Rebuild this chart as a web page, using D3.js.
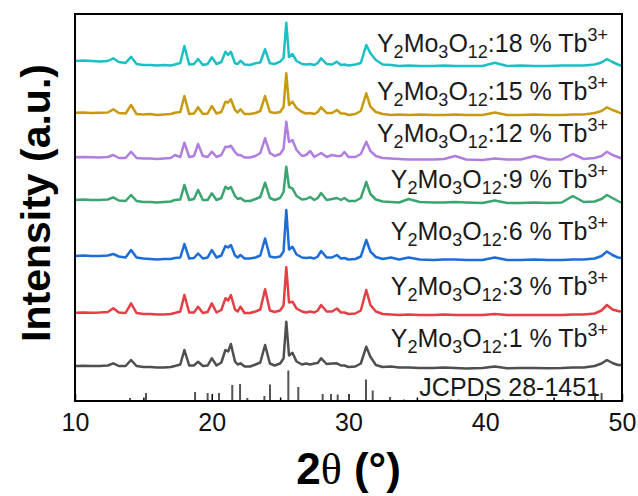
<!DOCTYPE html>
<html>
<head>
<meta charset="utf-8">
<script src="https://cdn.jsdelivr.net/npm/d3@7"></script>
<style>
  html, body { margin: 0; padding: 0; background: #fff; }
  svg { display: block; }
  text { font-family: "Liberation Sans", Arial, sans-serif; }
</style>
</head>
<body>
<svg id="chart" width="638" height="496"></svg>
<script>
// 2θ sampling positions shared by every measured pattern (degrees)
const twoTheta = [
  10.0, 10.6, 11.2, 11.8, 12.4, 12.8, 13.2, 13.7, 14.1, 14.5,
  15.0, 15.5, 16.0, 16.5, 17.0, 17.3, 17.7, 18.0, 18.35, 18.7,
  19.0, 19.35, 19.7, 20.0, 20.35, 20.7, 21.0, 21.2, 21.4, 21.7,
  21.9, 22.1, 22.4, 22.8, 23.2, 23.55, 23.9, 24.25, 24.6, 25.0,
  25.25, 25.45, 25.65, 25.9, 26.2, 26.6, 26.9, 27.2, 27.5, 27.75,
  28.0, 28.4, 28.8, 29.15, 29.45, 29.7, 30.0, 30.5, 30.9, 31.3,
  31.6, 32.0, 32.5, 33.1, 33.7, 34.4, 35.2, 36.2, 37.0, 37.8,
  38.6, 39.8, 40.7, 41.6, 42.6, 43.6, 44.6, 45.6, 46.4, 47.2,
  48.0, 48.5, 48.9, 49.3, 49.7, 50.0
];

// Tb3+ doping level of each sample (%)
const dopingLevels = [1, 3, 6, 9, 12, 15, 18];

// Vertical stacking offset of each pattern (a.u.), same order as dopingLevels
const stackOffset = [33.5, 86.5, 141.5, 199, 242, 286, 335];

// Diffracted intensity above background (a.u.) per sample
const intensity1 = [
  1.5, 1.8, 1.5, 1.5, 2, 4.2, 1.5, 1.5, 7.5, 1.5,
  0.5, 0.5, 0, 0, 0.5, 1.5, 3, 17.5, 2, 2,
  5.8, 1.5, 2, 9.2, 2, 5, 17.5, 16, 23.5, 6,
  3, 4.2, 1, 1, 3, 5, 22.5, 4, 2, 4,
  9, 45.8, 12, 14.8, 6, 3, 4, 3, 4, 4.5,
  9.2, 3.5, 4, 4.2, 2, 2, 0.5, 1, 4, 20.8,
  10.8, 2.5, 0.5, 1, 0, 0, -0.5, -0.5, 0, -0.5,
  -1, -0.5, 1, -0.8, -0.5, -0.5, -0.8, -0.5, 0, 0,
  1.5, 4, 7.5, 4.5, 2.5, 2.5
];
const intensity3 = [
  1.8, 2, 1.8, 2, 2.5, 6.2, 2, 1.5, 11.2, 1.5,
  0.5, 0.5, 0, 0, 0.5, 1.5, 3, 19.5, 2, 2,
  7.8, 1.5, 2.5, 11.2, 2, 4.5, 16.2, 14, 19.5, 5,
  3, 7.8, 1.5, 1.5, 3, 5, 25.2, 4, 2.5, 4,
  9, 47.2, 12, 12.8, 6, 3, 2, 3, 2, 4,
  9.5, 3, 3, 6, 2, 2, 0.5, 1, 4, 24.5,
  9.5, 3, 0.5, 0, -0.5, 0, -0.5, -0.5, 0, -0.5,
  -0.5, -0.5, 0.5, -0.5, -0.5, -0.5, -0.5, -0.5, 0, 0,
  1, 4, 9.5, 5, 3.5, 2.8
];
const intensity6 = [
  3.5, 4, 3.5, 3.5, 4, 5.5, 3, 2, 9.5, 2,
  1, 0.5, 0, 0.5, 0.5, 1.5, 2, 15.5, 1, 1.5,
  6, 1, 2, 9.5, 2, 4, 13.5, 12, 14.5, 4,
  2, 4.5, 1, 1, 2, 4, 21, 3, 2, 3,
  8, 49.5, 10, 12.8, 5, 2, 1.5, 2, 1, 3,
  8.5, 2, 2, 4.5, 1, 1.5, 0, 0.5, 3, 19.5,
  8, 2.5, 0.5, 2, 0, 2, 0, -0.5, 0, 0,
  -0.5, -0.5, 2, -0.5, -0.5, 0, -0.5, -0.5, 0, 0,
  1, 3.5, 8, 4.5, 2, 1.5
];
const intensity9 = [
  2, 2.5, 2, 2, 2.5, 4.7, 1.5, 1, 7, 1,
  0, 0, -0.5, 0, 0.5, 2, 2.5, 17, 2, 3,
  12, 2, 2, 8.7, 2, 4, 15.3, 13, 15, 6,
  3, 4, 1, 1, 3, 5, 19.3, 4, 2, 4,
  10, 35.3, 15, 13.7, 6, 2.5, 3, 5, 2, 4,
  9, 2, 3, 4, 2, 4, 1, 1, 4, 20,
  8, 2.5, 0.5, 0, -0.5, 3, 0, -0.5, -0.5, 0,
  -0.5, -1, 1.5, -1, -1, -0.5, -1, -0.5, 6, 0,
  0.5, 3, 7, 4, 1, -1
];
const intensity12 = [
  1.7, 2, 1.7, 1.5, 2, 4, 1, 1, 7.3, 1,
  0.5, 0.5, 0, 0.5, 1, 4, 2, 16.3, 2, 3,
  15, 3, 2, 7.3, 2, 4, 12.3, 12, 13.3, 7,
  4, 4, 1.5, 1.5, 3, 6, 20.7, 6, 3, 5,
  10, 37.3, 17, 19, 9, 3, 4, 8, 2, 4,
  6, 2, 4, 3, 3, 7, 2, 2, 5, 17.3,
  8, 3, 1, 0.5, 0, -0.5, -0.5, -0.5, 0, 3,
  -0.5, -1, 0.5, -0.5, -0.5, 3, -0.5, -0.5, 5, 0,
  1, 3, 7.3, 4, 2, 0.5
];
const intensity15 = [
  2.3, 2.5, 2, 2.3, 2.5, 5.7, 2, 1.5, 10, 1,
  0.5, 1, 0, 0.5, 1, 2.3, 3, 19, 1, 1.5,
  7.7, 1, 1.5, 9, 1.5, 3, 13.3, 12.5, 15.7, 5,
  2.5, 5.7, 1, 1, 2, 4, 19, 3, 2, 3,
  8, 41.7, 10, 13.3, 7, 3, 1.5, 2, 1, 3,
  7.7, 2, 2, 5, 1.5, 1.5, 0, 1, 4, 21.7,
  8.3, 3, 1, 0, 0.5, 0, 0.5, 0, 0, 0.5,
  0, 0, 2.5, 0, 0, 0.5, 0, 0, 0.5, 0.5,
  2, 4, 7.7, 5, 3, 1
];
const intensity18 = [
  5, 5.5, 5, 4.5, 5, 7.7, 4, 3, 9.3, 2,
  1, 1, 0.5, 1, 0.5, 1.5, 3, 20, 1.5, 2,
  7, 1, 2, 8.7, 2, 4, 14.3, 11, 14.3, 2.7,
  2, 5.3, 1.5, 1, 2.7, 3.5, 16.7, 2.7, 2, 4.3,
  8, 43.3, 9, 12, 5, 2, 1.5, 2, 1, 3,
  7.7, 2, 1.5, 4.3, 1, 1.5, 0.5, 1.5, 3, 21,
  12.7, 6, 1.5, 1, 0, 0.5, 0, 0, 0.5, 0,
  0, 0, 3.3, 0, 0.5, 0, 0, 0.5, 0.5, 0.5,
  1.5, 3.5, 7, 4, 1.5, 0
];

// Standard reference pattern JCPDS 28-1451: line positions (2θ) and relative heights
const refPositions = [14.02, 15.19, 18.78, 19.70, 20.53, 21.50, 22.07, 22.60, 23.85, 24.26,
                      25.60, 26.33, 28.11, 28.72, 29.21, 31.28, 31.77, 33.04, 34.06, 37.5,
                      38.05, 41.3, 43.1, 48.03, 48.51];
const refHeights   = [3, 8, 9, 8, 8, 16, 17, 3, 5, 16.5,
                      30.5, 14, 7, 7, 6.5, 21.5, 10.5, 4, 1.5, 1.5,
                      1.5, 1.5, 1.5, 8, 8];

const xMajorTicks = [10, 20, 30, 40, 50];
const xMinorTicks = [15, 25, 35, 45];
const refLabel = "JCPDS 28-1451";

const seriesColors = ["#4f4f4f", "#e53e45", "#1c6dd8", "#3aa56e", "#b07edf", "#c89a10", "#1bbfc4"];
const series = [intensity1, intensity3, intensity6, intensity9, intensity12, intensity15, intensity18];

const svg = d3.select("#chart");
const plot = { left: 75, right: 622, top: 14, bottom: 401 };

const x = d3.scaleLinear().domain([10, 50]).range([plot.left, plot.right]);
const y = d3.scaleLinear().domain([0, 387]).range([plot.bottom, plot.top]);

// reference stick pattern
svg.append("g")
  .selectAll("line")
  .data(refPositions)
  .join("line")
  .attr("x1", d => x(d)).attr("x2", d => x(d))
  .attr("y1", y(0))
  .attr("y2", (d, i) => y(refHeights[i]))
  .attr("stroke", "#555")
  .attr("stroke-width", 2);

// stacked diffraction patterns
const line = d3.line()
  .x((d, i) => x(twoTheta[i]))
  .y(d => d);

series.forEach((vals, k) => {
  svg.append("path")
    .attr("d", line(vals.map(v => y(stackOffset[k] + v))))
    .attr("fill", "none")
    .attr("stroke", seriesColors[k])
    .attr("stroke-width", 2.5)
    .attr("stroke-linejoin", "round");
});

// bottom axis: labelled major ticks and short minor ticks, pointing inward
const axisMajor = d3.axisBottom(x).tickValues(xMajorTicks).tickSize(-7).tickPadding(12).tickFormat(d3.format("d"));
const gx = svg.append("g").attr("transform", `translate(0,${plot.bottom})`).call(axisMajor);
gx.select(".domain").remove();
gx.selectAll("line").attr("stroke", "#000").attr("stroke-width", 1.5);
gx.selectAll("text").attr("font-size", 25).attr("fill", "#111")
  .style("font-family", "'Liberation Sans', Arial, sans-serif");

const axisMinor = d3.axisBottom(x).tickValues(xMinorTicks).tickSize(-3.5).tickFormat("");
const gm = svg.append("g").attr("transform", `translate(0,${plot.bottom})`).call(axisMinor);
gm.select(".domain").remove();
gm.selectAll("line").attr("stroke", "#000").attr("stroke-width", 1.5);

// frame
svg.append("rect")
  .attr("x", plot.left).attr("y", plot.top)
  .attr("width", plot.right - plot.left).attr("height", plot.bottom - plot.top)
  .attr("fill", "none").attr("stroke", "#000").attr("stroke-width", 2);

// sample labels with chemical sub/superscripts
const labelBaselines = [346.7, 295, 240, 188, 141.7, 100, 51.7];
dopingLevels.forEach((lvl, k) => {
  const t = svg.append("text")
    .attr("x", 608).attr("y", labelBaselines[k])
    .attr("text-anchor", "end")
    .attr("font-size", 25)
    .attr("fill", "#1a1a1a");
  t.append("tspan").text("Y");
  t.append("tspan").attr("font-size", 18).attr("dy", 6).text("2");
  t.append("tspan").attr("dy", -6).text("Mo");
  t.append("tspan").attr("font-size", 18).attr("dy", 6).text("3");
  t.append("tspan").attr("dy", -6).text("O");
  t.append("tspan").attr("font-size", 18).attr("dy", 6).text("12");
  t.append("tspan").attr("dy", -6).text(`:${lvl} % Tb`);
  t.append("tspan").attr("font-size", 18).attr("dy", -11).text("3+");
});

svg.append("text")
  .attr("x", 600).attr("y", 396)
  .attr("text-anchor", "end")
  .attr("font-size", 25)
  .attr("fill", "#1a1a1a")
  .text(refLabel);

// axis titles
const xt = svg.append("text")
  .attr("x", (plot.left + plot.right) / 2).attr("y", 484)
  .attr("text-anchor", "middle")
  .attr("font-size", 44).attr("font-weight", "bold").attr("fill", "#000");
xt.append("tspan").text("2");
xt.append("tspan").style("font-family", "'Liberation Serif', 'Times New Roman', serif").attr("font-weight", "normal").text("θ");
xt.append("tspan").text(" (°)");

svg.append("text")
  .attr("transform", `translate(50,203) rotate(-90)`)
  .attr("text-anchor", "middle")
  .attr("font-size", 41).attr("font-weight", "bold").attr("fill", "#000")
  .text("Intensity (a.u.)");
</script>
</body>
</html>
